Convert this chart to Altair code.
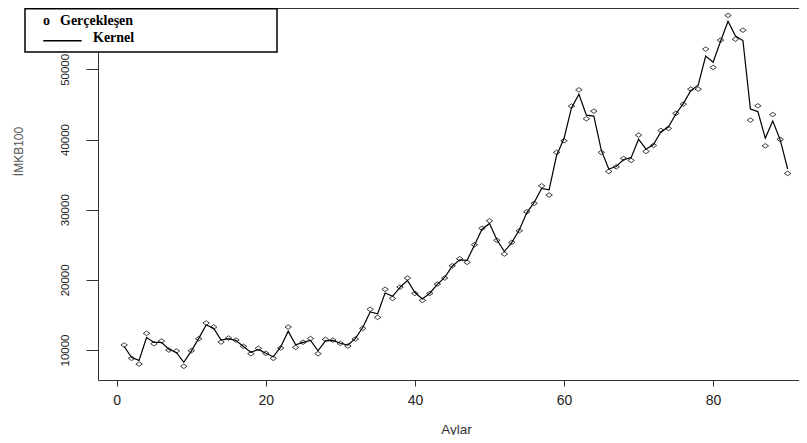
import altair as alt
import pandas as pd

months = list(range(1, 91))

observed = [
    10710, 8820, 8000, 12380, 10900, 11280, 10000, 9860, 7680, 9900,
    11610, 13850, 13280, 11140, 11710, 11420, 10530, 9480, 10240, 9530,
    8820, 10290, 13280, 10380, 11120, 11640, 9480, 11520, 11420, 10950,
    10570, 11570, 13090, 15800, 14660, 18650, 17360, 18970, 20260, 18070,
    17080, 18070, 19400, 20260, 22010, 23010, 22490, 25000, 27350, 28420,
    25640, 23680, 25340, 27000, 29700, 30900, 33400, 32080, 38160, 39820,
    44760, 47080, 42950, 44040, 38160, 35450, 36110, 37300, 37020, 40630,
    38300, 39150, 41290, 41580, 43720, 45040, 47180, 47180, 52880, 50270,
    54160, 57680, 54300, 55580, 42760, 44800, 39100, 43560, 40010, 35170,
]

kernel = [
    10500, 8930, 8520, 11790, 11090, 11110, 10110, 9660, 8250, 9850,
    11660, 13570, 13120, 11410, 11620, 11360, 10510, 9660, 10090, 9530,
    9040, 10440, 12690, 10740, 11100, 11370, 9900, 11310, 11380, 10960,
    10710, 11620, 13210, 15420, 15170, 18120, 17650, 18940, 19910, 18190,
    17280, 18100, 19350, 20350, 21940, 22860, 22790, 24980, 27220, 28040,
    25720, 24040, 25340, 27100, 29550, 31030, 33020, 32820, 37720, 40150,
    44500, 46440, 43470, 43340, 38480, 35790, 36160, 37150, 37410, 40040,
    38620, 39280, 41110, 41770, 43640, 45120, 46970, 47750, 51900, 51000,
    54000, 56850, 54750, 54100, 44350, 43980, 40200, 42620, 39950, 35800,
]

x_ticks = [0, 20, 40, 60, 80]
y_ticks = [10000, 20000, 30000, 40000, 50000]

df = pd.DataFrame({"Aylar": months, "Gerceklesen": observed, "Kernel": kernel})
one = pd.DataFrame({"a": [0]})

W, H = 701, 372
FRAME = "#333333"

xs = alt.Scale(domain=[-2.51, 91.52], nice=False, zero=False)
ys = alt.Scale(domain=[5730, 58740], nice=False, zero=False)

x_axis = alt.Axis(
    values=x_ticks, title="Aylar", grid=False,
    domainColor=FRAME, domainWidth=1, tickColor=FRAME, tickWidth=1, tickSize=6,
    labelFont="Liberation Sans", labelFontSize=14, labelColor="#222222",
    labelPadding=7, labelFlush=False, labelOverlap=False,
    titleFont="Liberation Sans", titleFontSize=13.5, titleFontWeight="normal",
    titleColor="#333333", titleX=358, titleY=49, titleAlign="center",
    titleBaseline="middle",
)
y_axis = alt.Axis(
    values=y_ticks, title="İMKB100", grid=False, format="d",
    domainColor=FRAME, domainWidth=1, tickColor=FRAME, tickWidth=1, tickSize=12,
    labelFont="Liberation Sans", labelFontSize=11.5, labelColor="#222222",
    labelAngle=270, labelAlign="center", labelBaseline="middle",
    labelPadding=21, labelFlush=False, labelOverlap=False,
    titleFont="Liberation Sans", titleFontSize=12, titleFontWeight="normal",
    titleColor="#555555", titleAngle=270, titleX=-80, titleY=143,
    titleAlign="center", titleBaseline="middle",
)

line = alt.Chart(df).mark_line(color="black", strokeWidth=1.2).encode(
    x=alt.X("Aylar:Q", scale=xs, axis=x_axis),
    y=alt.Y("Kernel:Q", scale=ys, axis=y_axis),
)

points = alt.Chart(df).mark_point(
    shape="M-1,0L0,-0.7L1,0L0,0.7Z", size=42, filled=False,
    color="black", strokeWidth=0.75, opacity=1,
).encode(
    x=alt.X("Aylar:Q", scale=xs, axis=x_axis),
    y=alt.Y("Gerceklesen:Q", scale=ys, axis=y_axis),
)

top_rule = alt.Chart(one).mark_rule(color=FRAME, strokeWidth=1).encode(
    x=alt.value(0), x2=alt.value(W), y=alt.value(0.5)
)

legend_box = alt.Chart(one).mark_rect(
    fill="white", stroke="black", strokeWidth=1.5
).encode(
    x=alt.value(-73), x2=alt.value(179), y=alt.value(0.75), y2=alt.value(44)
)

txt = dict(font="Liberation Serif", fontWeight="bold", fontSize=14,
           align="left", baseline="alphabetic", color="black")

leg_o = alt.Chart(one).mark_text(**txt).encode(
    x=alt.value(-55), y=alt.value(17), text=alt.value("o"))
leg_g = alt.Chart(one).mark_text(**txt).encode(
    x=alt.value(-38), y=alt.value(17), text=alt.value("Gerçekleşen"))
leg_k = alt.Chart(one).mark_text(**txt).encode(
    x=alt.value(-5), y=alt.value(33.7), text=alt.value("Kernel"))
leg_line = alt.Chart(one).mark_rule(color="black", strokeWidth=1.5).encode(
    x=alt.value(-54.7), x2=alt.value(-16.3), y=alt.value(32.7))

chart = alt.layer(
    top_rule, line, points, legend_box, leg_o, leg_g, leg_k, leg_line
).properties(
    width=W, height=H,
    autosize=alt.AutoSizeParams(type="none"),
    padding={"left": 90, "top": 0, "right": 0, "bottom": 55},
    background="white",
).configure_view(stroke=None)

chart.save("out.html", embed_options={"renderer": "svg", "actions": False})
